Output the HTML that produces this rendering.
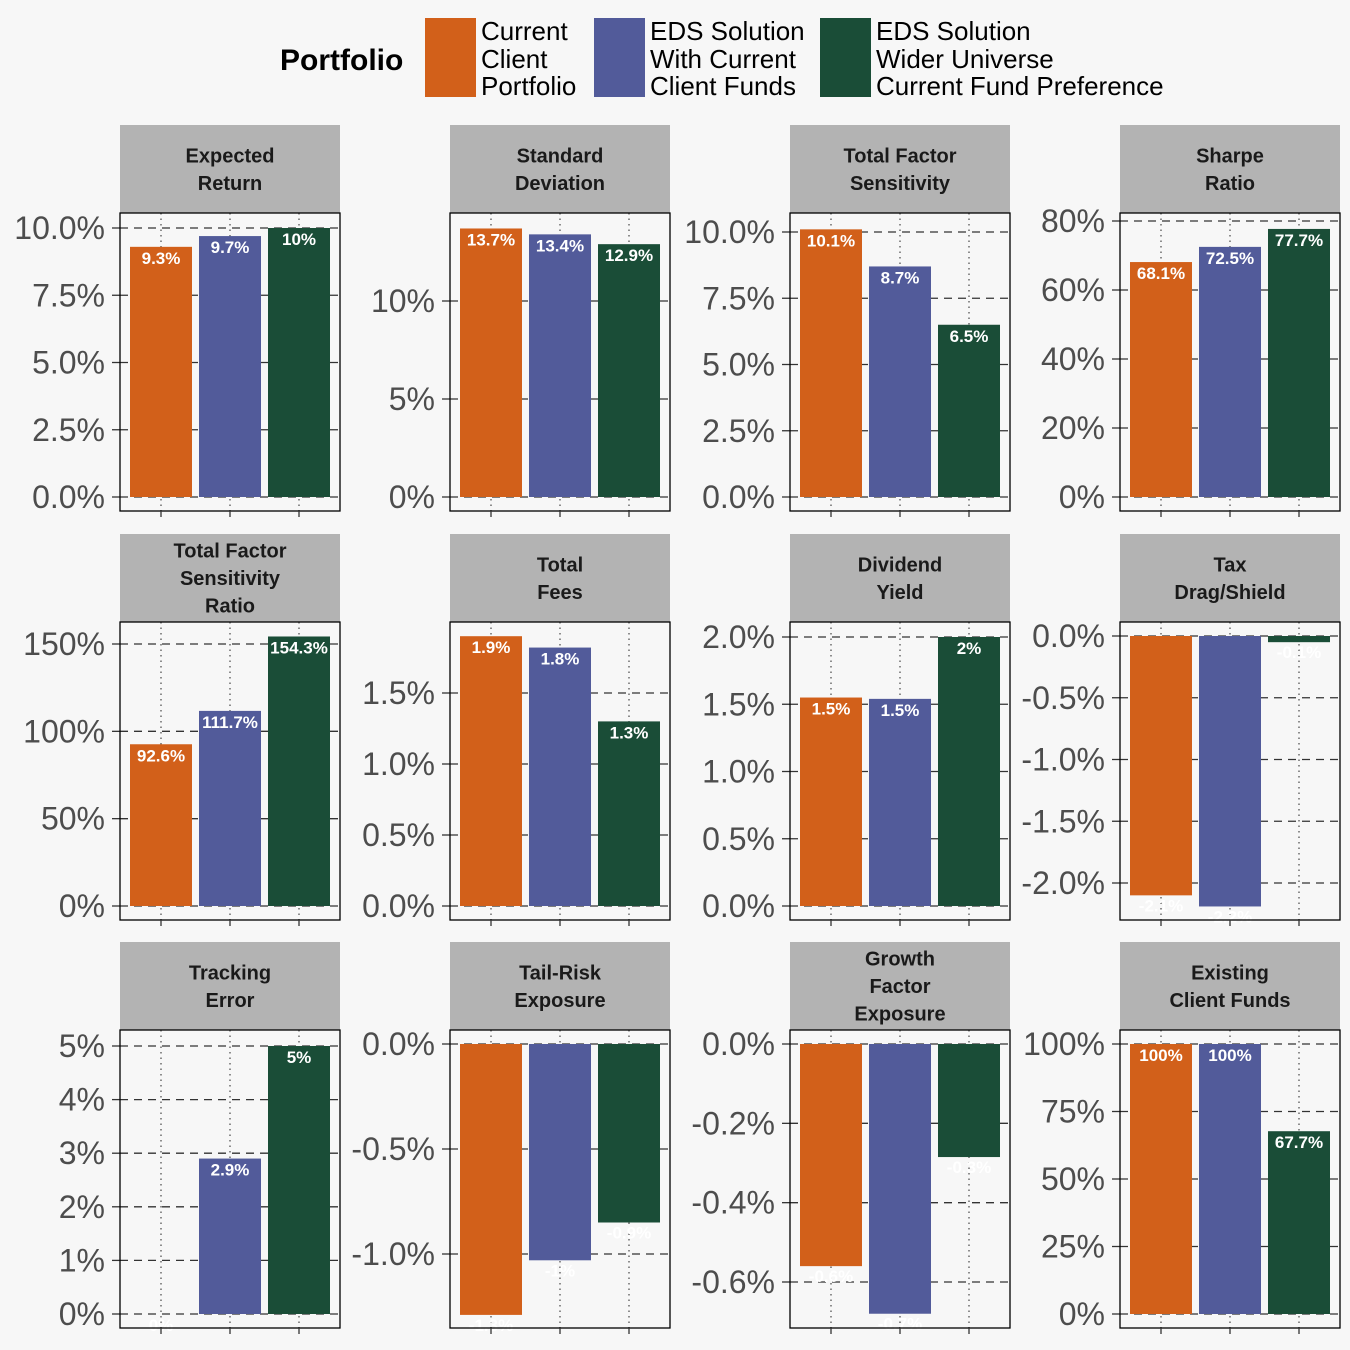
<!DOCTYPE html>
<html><head><meta charset="utf-8"><style>
html,body{margin:0;padding:0;background:#f7f7f7;}
svg{display:block;font-family:"Liberation Sans",sans-serif;}
</style></head><body>
<svg id="chart" width="1350" height="1350" viewBox="0 0 1350 1350">
<rect x="0" y="0" width="1350" height="1350" fill="#f7f7f7"/>
<g>
<text x="280" y="70" font-size="30" font-weight="bold" fill="#000">Portfolio</text>
<rect x="425" y="18" width="51" height="79" fill="#d2601a"/>
<text font-size="26" fill="#000"><tspan x="481" y="40">Current</tspan><tspan x="481" y="68">Client</tspan><tspan x="481" y="95">Portfolio</tspan></text>
<rect x="594" y="18" width="51" height="79" fill="#525b9a"/>
<text font-size="26" fill="#000"><tspan x="650" y="40">EDS Solution</tspan><tspan x="650" y="68">With Current</tspan><tspan x="650" y="95">Client Funds</tspan></text>
<rect x="820" y="18" width="51" height="79" fill="#1a4d37"/>
<text font-size="26" fill="#000"><tspan x="876" y="40">EDS Solution</tspan><tspan x="876" y="68">Wider Universe</tspan><tspan x="876" y="95">Current Fund Preference</tspan></text>
</g>
</svg>
<script>
const titles=[["Expected","Return"],["Standard","Deviation"],["Total Factor","Sensitivity"],["Sharpe","Ratio"],["Total Factor","Sensitivity","Ratio"],["Total","Fees"],["Dividend","Yield"],["Tax","Drag/Shield"],["Tracking","Error"],["Tail-Risk","Exposure"],["Growth","Factor","Exposure"],["Existing","Client Funds"]];
const seriesCurrent=[9.3,13.7,10.1,68.1,92.6,1.9,1.55,-2.1,0,-1.29,-0.56,100];
const seriesEdsCurrent=[9.7,13.4,8.7,72.5,111.7,1.82,1.54,-2.19,2.9,-1.03,-0.68,100];
const seriesEdsWider=[10,12.9,6.5,77.7,154.3,1.3,2.0,-0.05,5,-0.85,-0.285,67.7];
const labelsCurrent=["9.3%","13.7%","10.1%","68.1%","92.6%","1.9%","1.5%","-2.1%","0%","-1.3%","-0.6%","100%"];
const labelsEdsCurrent=["9.7%","13.4%","8.7%","72.5%","111.7%","1.8%","1.5%","-2.2%","2.9%","-1%","-0.7%","100%"];
const labelsEdsWider=["10%","12.9%","6.5%","77.7%","154.3%","1.3%","2%","-0.1%","5%","-0.9%","-0.3%","67.7%"];
const tickValues=[[0,2.5,5,7.5,10],[0,5,10],[0,2.5,5,7.5,10],[0,20,40,60,80],[0,50,100,150],[0,0.5,1,1.5],[0,0.5,1,1.5,2],[-2,-1.5,-1,-0.5,0],[0,1,2,3,4,5],[-1,-0.5,0],[-0.6,-0.4,-0.2,0],[0,25,50,75,100]];
const tickLabels=[["0.0%","2.5%","5.0%","7.5%","10.0%"],["0%","5%","10%"],["0.0%","2.5%","5.0%","7.5%","10.0%"],["0%","20%","40%","60%","80%"],["0%","50%","100%","150%"],["0.0%","0.5%","1.0%","1.5%"],["0.0%","0.5%","1.0%","1.5%","2.0%"],["-2.0%","-1.5%","-1.0%","-0.5%","0.0%"],["0%","1%","2%","3%","4%","5%"],["-1.0%","-0.5%","0.0%"],["-0.6%","-0.4%","-0.2%","0.0%"],["0%","25%","50%","75%","100%"]];
// layout: scale anchors (value -> pixel) per panel
const anchors=[[0,497,10,228],[0,497,10,301],[0,497,10,232],[0,497,80,221],[0,906,150,644],[0,906,1.5,693],[0,906,2,637],[0,636,-2,883],[0,1314,5,1046],[0,1044,-1,1254],[0,1044,-0.6,1282],[0,1314,100,1044]];
const colLeft=[120,450,790,1120], rowTop=[213,622,1030], plotW=220, plotH=298;
const colors=["#d2601a","#525b9a","#1a4d37"];
const svg=document.getElementById('chart');
const NS="http://www.w3.org/2000/svg";
function mk(tag,attrs,parent){const e=document.createElementNS(NS,tag);for(const k in attrs)e.setAttribute(k,attrs[k]);parent.appendChild(e);return e;}
for(let p=0;p<12;p++){
  const L=colLeft[p%4], T=rowTop[Math.floor(p/4)];
  const a=anchors[p];
  const y=v=>a[1]+(v-a[0])*(a[3]-a[1])/(a[2]-a[0]);
  const g=mk('g',{},svg);
  
  
  const strip=mk('rect',{x:L,y:T-88,width:plotW,height:88,fill:'#b3b3b3'},g);
  
  
  const n=titles[p].length, lh=27.5, cy=T-44;
  const st=mk('text',{'font-size':'20','font-weight':'bold','text-anchor':'middle',fill:'#1a1a1a'},g);
  
  
  titles[p].forEach((s,i)=>{const ts=mk('tspan',{x:L+plotW/2,y:cy-(n-1)*lh/2+i*lh+7},st);ts.textContent=s;});
  mk('rect',{x:L,y:T,width:plotW,height:plotH,fill:'#f7f7f7'},g);
  const cx=[41,110,179].map(o=>L+o);
  cx.forEach(x=>mk('line',{x1:x,x2:x,y1:T,y2:T+plotH,stroke:'#555','stroke-width':1.3,'stroke-dasharray':'1.5 4'},g));
  tickValues[p].forEach((tv,i)=>{
    const ty=y(tv);
    mk('line',{x1:L,x2:L+plotW,y1:ty,y2:ty,stroke:'#333','stroke-width':1.3,'stroke-dasharray':'8 6'},g);
    mk('line',{x1:L-8,x2:L,y1:ty,y2:ty,stroke:'#333','stroke-width':1.3},g);
    const tl=mk('text',{x:L-15,y:ty+11,'font-size':'32','text-anchor':'end',fill:'#4d4d4d'},g);
    
    
    tl.textContent=tickLabels[p][i];
  });
  const vals=[seriesCurrent[p],seriesEdsCurrent[p],seriesEdsWider[p]];
  const labs=[labelsCurrent[p],labelsEdsCurrent[p],labelsEdsWider[p]];
  vals.forEach((v,i)=>{
    const y0=y(0), yv=y(v);
    const b=mk('rect',{x:cx[i]-31,y:Math.min(y0,yv),width:62,height:Math.abs(yv-y0),fill:colors[i]},g);
    
    
    const ly=v>=0?yv+17:yv+16;
    const t=mk('text',{x:cx[i],y:ly,'font-size':'17','font-weight':'bold','text-anchor':'middle',fill:'#fff'},g);
    
    
    t.textContent=labs[i];
  });
  mk('rect',{x:L,y:T,width:plotW,height:plotH,fill:'none',stroke:'#000','stroke-width':1.3},g);
  cx.forEach(x=>mk('line',{x1:x,x2:x,y1:T+plotH,y2:T+plotH+6,stroke:'#333','stroke-width':1.3},g));
}
</script>
</body></html>
